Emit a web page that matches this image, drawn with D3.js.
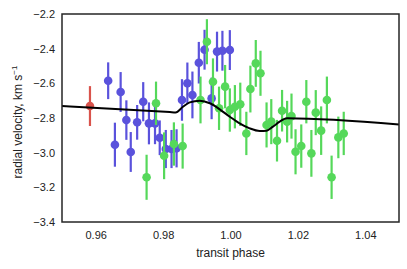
<!DOCTYPE html>
<html>
<head>
<meta charset="utf-8">
<script src="https://cdn.jsdelivr.net/npm/d3@7"></script>
<style>
  body { margin: 0; background: #fff; }
  text { font-family: "Liberation Sans", Arial, sans-serif; }
</style>
</head>
<body>
<div id="chart"></div>
<script>
// blue series: [phase, rv, err]
const bluePoints = [
  [0.9637, -2.585, 0.106], [0.9674, -2.650, 0.115], [0.9657, -2.954, 0.127],
  [0.9691, -2.812, 0.114], [0.9704, -2.996, 0.115], [0.9723, -2.825, 0.100],
  [0.9741, -2.706, 0.113], [0.9758, -2.831, 0.121], [0.9776, -2.831, 0.120],
  [0.9790, -2.914, 0.100], [0.9808, -2.979, 0.110], [0.9825, -2.979, 0.110],
  [0.9840, -2.975, 0.110], [0.9856, -2.696, 0.120], [0.9872, -2.600, 0.120],
  [0.9887, -2.667, 0.135], [0.9906, -2.481, 0.120], [0.9923, -2.406, 0.115],
  [0.9944, -2.687, 0.120], [0.9960, -2.417, 0.115], [0.9976, -2.412, 0.115],
  [0.9998, -2.408, 0.115]
];

// green series
const greenPoints = [
  [0.9751, -3.142, 0.130], [0.9779, -2.715, 0.125], [0.9803, -3.018, 0.135],
  [0.9832, -2.950, 0.125], [0.9858, -2.962, 0.130], [0.9911, -2.696, 0.135],
  [0.9930, -2.360, 0.130], [0.9948, -2.591, 0.135], [0.9966, -2.744, 0.125],
  [0.9984, -2.619, 0.125], [0.9998, -2.754, 0.125], [1.0013, -2.735, 0.125],
  [1.0029, -2.721, 0.125], [1.0047, -2.889, 0.125], [1.0059, -2.633, 0.135],
  [1.0075, -2.485, 0.135], [1.0089, -2.542, 0.130], [1.0107, -2.840, 0.130],
  [1.0121, -2.821, 0.130], [1.0138, -2.931, 0.120], [1.0153, -2.758, 0.120],
  [1.0168, -2.821, 0.120], [1.0181, -2.789, 0.130], [1.0193, -2.995, 0.130],
  [1.0210, -2.962, 0.125], [1.0225, -2.706, 0.125], [1.0240, -3.004, 0.135],
  [1.0253, -2.769, 0.130], [1.0269, -2.873, 0.140], [1.0286, -2.696, 0.135],
  [1.0300, -3.142, 0.125], [1.0320, -2.912, 0.120], [1.0336, -2.889, 0.125]
];

// red series
const redPoints = [[0.9583, -2.731, 0.115]];

// model curve
const modelCurve = [
  [0.9500, -2.731], [0.9820, -2.766], [0.9837, -2.768], [0.9859, -2.735],
  [0.9879, -2.710], [0.9909, -2.700], [0.9939, -2.715], [0.9968, -2.750],
  [0.9998, -2.793], [1.0027, -2.831], [1.0057, -2.860], [1.0087, -2.875],
  [1.0107, -2.873], [1.0126, -2.850], [1.0146, -2.821], [1.0168, -2.802],
  [1.0500, -2.838]
];

const xTicks = [0.96, 0.98, 1.00, 1.02, 1.04];
const yTicks = [-2.2, -2.4, -2.6, -2.8, -3.0, -3.2, -3.4];

const colors = { blue: "#5a52dc", green: "#55d85a", red: "#d9534c" };

const width = 407, height = 269;
const margin = { top: 14, right: 8, bottom: 47, left: 62 };
const innerW = width - margin.left - margin.right;
const innerH = height - margin.top - margin.bottom;

const svg = d3.select("#chart").append("svg")
  .attr("width", width)
  .attr("height", height);

const g = svg.append("g")
  .attr("transform", `translate(${margin.left}, ${margin.top})`);

const x = d3.scaleLinear().domain([0.95, 1.05]).range([0, innerW]);
const y = d3.scaleLinear().domain([-3.4, -2.2]).range([innerH, 0]);

// axes, no tick marks
const fmt = (d) => d3.format(".2f")(d);
g.append("g")
  .attr("transform", `translate(0, ${innerH})`)
  .call(d3.axisBottom(x).tickValues(xTicks).tickSize(0).tickPadding(9).tickFormat(fmt))
  .call((a) => a.select(".domain").remove())
  .selectAll("text").style("font-size", "11px").attr("fill", "#222");

g.append("g")
  .call(d3.axisLeft(y).tickValues(yTicks).tickSize(0).tickPadding(7)
    .tickFormat((d) => d3.format(".1f")(d).replace("-", "\u2212")))
  .call((a) => a.select(".domain").remove())
  .selectAll("text").style("font-size", "11px").attr("fill", "#222");

// draw error bars + points for one series
function drawSeries(data, color) {
  const s = g.append("g");
  s.selectAll("line.err")
    .data(data)
    .join("line")
    .attr("x1", (d) => x(d[0]))
    .attr("x2", (d) => x(d[0]))
    .attr("y1", (d) => y(d[1] - d[2]))
    .attr("y2", (d) => y(d[1] + d[2]))
    .attr("stroke", color)
    .attr("stroke-width", 2.2);
  s.selectAll("circle")
    .data(data)
    .join("circle")
    .attr("cx", (d) => x(d[0]))
    .attr("cy", (d) => y(d[1]))
    .attr("r", 4.3)
    .attr("fill", color);
}

drawSeries(bluePoints, colors.blue);
drawSeries(greenPoints, colors.green);
drawSeries(redPoints, colors.red);

// model line
const line = d3.line()
  .x((d) => x(d[0]))
  .y((d) => y(d[1]))
  .curve(d3.curveMonotoneX);

g.append("path")
  .datum(modelCurve)
  .attr("d", line)
  .attr("fill", "none")
  .attr("stroke", "#000")
  .attr("stroke-width", 2);

// frame
g.append("rect")
  .attr("width", innerW)
  .attr("height", innerH)
  .attr("fill", "none")
  .attr("stroke", "#262626")
  .attr("stroke-width", 1.5);

// labels
svg.append("text")
  .attr("x", margin.left + innerW / 2)
  .attr("y", 257)
  .attr("text-anchor", "middle")
  .style("font-size", "12px")
  .attr("fill", "#222")
  .text("transit phase");

const yl = svg.append("text")
  .attr("transform", `translate(22, ${margin.top + innerH / 2 + 4}) rotate(-90)`)
  .attr("text-anchor", "middle")
  .style("font-size", "12px")
  .attr("fill", "#222");
yl.append("tspan").text("radial velocity, km s");
yl.append("tspan").attr("dy", -5).style("font-size", "8px").text("\u22121");
</script>
</body>
</html>
